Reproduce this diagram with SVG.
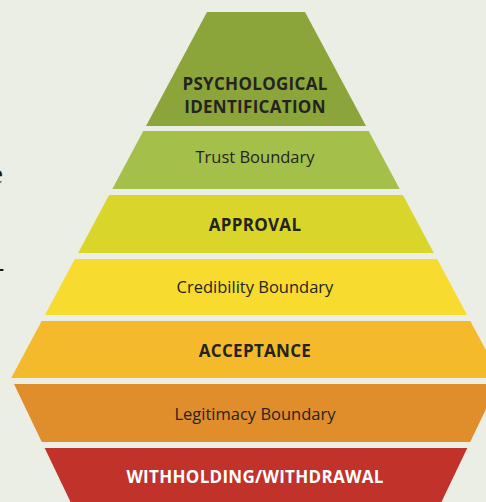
<svg xmlns="http://www.w3.org/2000/svg" width="486" height="502" viewBox="0 0 486 502">
<style>
.lbl{font-family:"Open Sans","Noto Sans","Liberation Sans",sans-serif;text-anchor:middle;fill:#24241e}
.b{font-weight:700;font-size:17px;letter-spacing:0.3px}
.r{font-weight:500;font-size:16.5px}
.w{fill:#ffffff}
.frag{font-family:"Liberation Serif",serif;font-size:28px;fill:#1a1a1a}
</style>
<rect width="486" height="502" fill="#ebeee5"/>
<text class="frag" x="-9.5" y="183">e</text>
<text class="frag" x="-5" y="276">-</text>
<g id="psychological-identification">
<polygon points="207,12 305,12 366,126 146,126" fill="#8ca53b"/>
<text class="lbl b" x="255" y="90">PSYCHOLOGICAL</text>
<text class="lbl b" x="255" y="113">IDENTIFICATION</text>
</g>
<g id="trust-boundary">
<polygon points="143.3,131 368.7,131 399.7,189 112.3,189" fill="#a4c04a"/>
<text class="lbl r" x="255" y="163">Trust Boundary</text>
</g>
<g id="approval">
<polygon points="109.1,195 402.9,195 433.9,253 78.1,253" fill="#dad52b"/>
<text class="lbl b" x="255" y="231">APPROVAL</text>
</g>
<g id="credibility-boundary">
<polygon points="74.9,259 437.1,259 467.1,315 44.9,315" fill="#f7dc2f"/>
<text class="lbl r" x="255" y="293">Credibility Boundary</text>
</g>
<g id="acceptance">
<polygon points="41.7,321 470.3,321 500.8,378 11.2,378" fill="#f5b92c"/>
<text class="lbl b" x="255" y="357">ACCEPTANCE</text>
</g>
<g id="legitimacy-boundary">
<polygon points="14,384 498,384 470.2,442 41.8,442" fill="#e08d2c"/>
<text class="lbl r" x="255" y="420">Legitimacy Boundary</text>
</g>
<g id="withholding-withdrawal">
<polygon points="44.7,448 467.3,448 437.6,510 74.4,510" fill="#c0322a"/>
<text class="lbl b w" x="255" y="483">WITHHOLDING/WITHDRAWAL</text>
</g>
<g id="connectors"></g>
</svg>
